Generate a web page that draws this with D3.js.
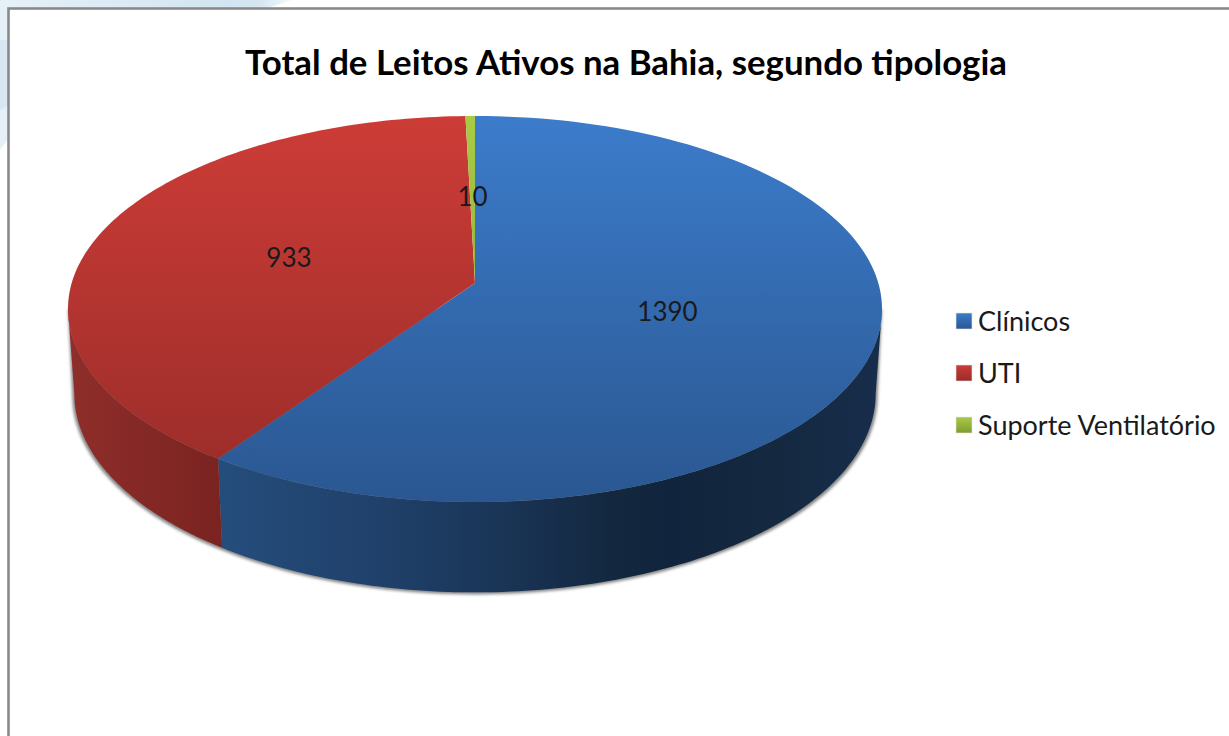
<!DOCTYPE html>
<html>
<head>
<meta charset="utf-8">
<script src="https://cdnjs.cloudflare.com/ajax/libs/d3/7.8.5/d3.min.js"></script>
<style>
html,body{margin:0;padding:0;background:#fff;overflow:hidden}
svg{display:block}
text{font-family:Lato,"Open Sans",sans-serif;fill:#1a1a1a}
</style>
</head>
<body>
<svg id="c" width="1229" height="736"></svg>
<script>
const chartTitle = "Total de Leitos Ativos na Bahia, segundo tipologia";
const categories = ["Clínicos", "UTI", "Suporte Ventilatório"];
const values = [1390, 933, 10];
const topColors = [["#3c7ccb", "#2a5791"], ["#cd3c37", "#982c29"], ["#a9cb45", "#7f9b32"]];
const sideStops = [
  [[0, "#254d7c"], [0.27, "#1f3f68"], [0.42, "#1a3557"], [0.6, "#13273f"], [0.68, "#11243d"], [0.82, "#14283f"], [1, "#172d4b"]],
  [[0, "#8f2e2b"], [1, "#7a2320"]]
];

const W = 1229, H = 736;
const svg = d3.select("#c");
const defs = svg.append("defs");

// perspective projection of the pie disc
const P = 0.1348;
const top3d = {cx: 475, cy: 283, A: 403.3, B: 189.5};
const bot3d = {cx: 475, cy: 367, A: 397, B: 195};
const project = (g, theta, f = 1) => {
  const s = Math.sin(theta) * f, c = Math.cos(theta) * f, w = 1 + P * c;
  return [g.cx + g.A * s / w, g.cy - g.B * c / w];
};
const line = d3.line();
const arcPoints = (g, a0, a1) => d3.range(0, 121).map(i => project(g, a0 + (a1 - a0) * i / 120));

const pie = d3.pie().sort(null).value(d => d).startAngle(0).endAngle(2 * Math.PI);
const arcs = pie(values);

// slide background visible in the top-left corner
const bg = defs.append("linearGradient").attr("id", "bg").attr("gradientUnits", "userSpaceOnUse")
  .attr("x1", 0).attr("y1", 0).attr("x2", 290).attr("y2", 0);
bg.append("stop").attr("offset", 0).attr("stop-color", "#e6f0f7");
bg.append("stop").attr("offset", 0.8).attr("stop-color", "#d3e5f1");
bg.append("stop").attr("offset", 0.9).attr("stop-color", "#d6e7f2");
bg.append("stop").attr("offset", 1).attr("stop-color", "#f3f8fb");
svg.append("rect").attr("width", W).attr("height", H).attr("fill", "#fff");
svg.append("path").attr("d", "M0,0L292,0L262,10L9,10L9,138L0,150Z").attr("fill", "url(#bg)");
svg.append("path").attr("d", "M0,40L9,40L9,105L0,110Z").attr("fill", "#d8e7f1");

// frame
svg.append("rect").attr("x", 8.5).attr("y", 8.5).attr("width", W + 20).attr("height", H + 20)
  .attr("fill", "#fff").attr("stroke", "#8a8a8a").attr("stroke-width", 2.6);

// title
svg.append("text").attr("x", 626).attr("y", 75).attr("text-anchor", "middle")
  .attr("font-size", 34.8).attr("font-weight", 700).style("fill", "#000").text(chartTitle);

// gradients
arcs.forEach((d, i) => {
  const g = defs.append("linearGradient").attr("id", "top" + i).attr("gradientUnits", "userSpaceOnUse")
    .attr("x1", 0).attr("y1", top3d.cy - 167).attr("x2", 0).attr("y2", top3d.cy + 219);
  g.append("stop").attr("offset", 0).attr("stop-color", topColors[i][0]);
  g.append("stop").attr("offset", 1).attr("stop-color", topColors[i][1]);
});

const shadow = defs.append("filter").attr("id", "shadow").attr("x", "-5%").attr("y", "-5%").attr("width", "110%").attr("height", "110%");
shadow.append("feGaussianBlur").attr("stdDeviation", 1.6);

// visible side range: tangent points of the rim
const tanA = Math.acos(-P);
const front0 = tanA, front1 = 2 * Math.PI - tanA;

// soft shadow under the base and along the silhouette
const basePts = arcPoints(bot3d, front0, front1).map(p => [bot3d.cx + (p[0] - bot3d.cx) * 1.005, p[1] + 2]);
const shadowPts = [project(top3d, front0)].concat(basePts, [project(top3d, front1)]);
svg.append("path")
  .attr("d", line(shadowPts) + "Z")
  .attr("fill", "#666").attr("opacity", 0.8).attr("filter", "url(#shadow)");

// sides
arcs.forEach((d, i) => {
  const a0 = Math.max(d.startAngle, front0), a1 = Math.min(d.endAngle, front1);
  if (a1 <= a0) return;
  const upper = arcPoints(top3d, a0, a1), lower = arcPoints(bot3d, a0, a1);
  const xs = upper.concat(lower).map(p => p[0]);
  const [x0, x1] = d3.extent(xs);
  const g = defs.append("linearGradient").attr("id", "side" + i).attr("gradientUnits", "userSpaceOnUse")
    .attr("x1", x0).attr("x2", x1).attr("y1", 0).attr("y2", 0);
  sideStops[i].forEach(s => g.append("stop").attr("offset", s[0]).attr("stop-color", s[1]));
  svg.append("path").attr("d", line(upper.concat(lower.reverse())) + "Z").attr("fill", `url(#side${i})`);
});

// top faces
arcs.forEach((d, i) => {
  const rim = arcPoints(top3d, d.startAngle, d.endAngle);
  svg.append("path")
    .attr("d", line([[top3d.cx, top3d.cy]].concat(rim)) + "Z")
    .attr("fill", `url(#top${i})`);
});

// data labels
arcs.forEach((d, i) => {
  const p = project(top3d, (d.startAngle + d.endAngle) / 2, 0.49);
  svg.append("text").attr("x", p[0]).attr("y", p[1]).attr("dy", "0.37em").attr("text-anchor", "middle")
    .attr("font-size", 26).text(values[i]);
});

// legend
const legendY = d3.scalePoint().domain(categories).range([321, 425]);
categories.forEach((c, i) => {
  const y = legendY(c);
  const g = defs.append("linearGradient").attr("id", "lg" + i).attr("x1", 0).attr("y1", 0).attr("x2", 0).attr("y2", 1);
  g.append("stop").attr("offset", 0).attr("stop-color", topColors[i][0]);
  g.append("stop").attr("offset", 1).attr("stop-color", topColors[i][1]);
  svg.append("rect").attr("x", 956).attr("y", y - 8).attr("width", 16).attr("height", 16)
    .attr("fill", `url(#lg${i})`).attr("stroke", "#e4e4e4").attr("stroke-width", 0.6);
  svg.append("text").attr("x", 978).attr("y", y).attr("dy", "0.36em").attr("font-size", 27)
    .text(c);
});
</script>
</body>
</html>
